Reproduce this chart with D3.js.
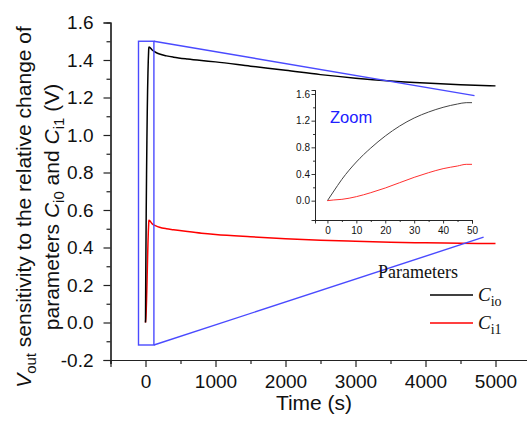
<!DOCTYPE html>
<html>
<head>
<meta charset="utf-8">
<script src="https://cdn.jsdelivr.net/npm/d3@7"></script>
<style>
  html, body { margin: 0; padding: 0; background: #fff; }
  svg { display: block; font-family: "Liberation Sans", Arial, sans-serif; }
</style>
</head>
<body>
<svg id="chart" width="527" height="429"></svg>
<script>
// Time points (s) and V_out sensitivity (V) for the two parameters
const time = [0, 2, 5, 10, 15, 20, 25, 30, 35, 40, 45, 48, 50,
              100, 150, 200, 300, 400, 600, 800, 1000, 1500, 2000, 2500, 3000, 3500, 4000, 4500, 5000];
const sensCi0 = [0, 0.13, 0.32, 0.58, 0.79, 0.97, 1.12, 1.24, 1.33, 1.40, 1.45, 1.47, 1.47,
                 1.452, 1.440, 1.432, 1.422, 1.415, 1.405, 1.397, 1.39, 1.367, 1.345, 1.322, 1.303, 1.288, 1.277, 1.268, 1.262];
const sensCi1 = [0, 0.01, 0.02, 0.06, 0.12, 0.19, 0.27, 0.35, 0.42, 0.48, 0.52, 0.545, 0.545,
                 0.525, 0.515, 0.508, 0.500, 0.495, 0.485, 0.476, 0.469, 0.457, 0.447, 0.439, 0.433, 0.428, 0.425, 0.423, 0.421];

// Axis ticks
const xTicks = [0, 1000, 2000, 3000, 4000, 5000];
const xMinorTicks = [-500, 500, 1500, 2500, 3500, 4500, 5500];
const yTicks = [-0.2, 0, 0.2, 0.4, 0.6, 0.8, 1.0, 1.2, 1.4, 1.6];
const yMinorTicks = [-0.1, 0.1, 0.3, 0.5, 0.7, 0.9, 1.1, 1.3, 1.5];
const insetXTicks = [0, 10, 20, 30, 40, 50];
const insetXMinorTicks = [5, 15, 25, 35, 45];
const insetYTicks = [0, 0.4, 0.8, 1.2, 1.6];
const insetYMinorTicks = [0.2, 0.6, 1.0, 1.4];

// Zoomed window (time range, voltage range) and where its connectors end
const zoomTime = [-100, 120];
const zoomV = [-0.12, 1.5];
const connectorEnds = [[4700, 1.21], [4830, 0.455]];
const insetMaxTime = 50;

const seriesNames = ["io", "i1"];
const seriesColors = ["#000000", "#ff0000"];

const svg = d3.select("#chart");
const fmt = d3.format(".1f");

// ---------- main plot ----------
const x = d3.scaleLinear().domain([-500, 5500]).range([110.5, 530.5]);
const y = d3.scaleLinear().domain([-0.2, 1.6]).range([360, 22.5]);

const axisColor = "#222";

function styleAxis(g, fontSize) {
  g.selectAll(".domain").attr("stroke", axisColor).attr("stroke-width", 1.2);
  g.selectAll(".tick line").attr("stroke", axisColor).attr("stroke-width", 1.2);
  g.selectAll(".tick text").attr("fill", "#111").style("font-size", fontSize + "px")
    .style("font-family", '"Liberation Sans", Arial, sans-serif');
}

// minor ticks first
svg.append("g").attr("transform", `translate(0,${y(-0.2)})`)
  .call(d3.axisBottom(x).tickValues(xMinorTicks).tickSize(4).tickFormat(""))
  .call(g => styleAxis(g, 19));
svg.append("g").attr("transform", `translate(${x(-500)},0)`)
  .call(d3.axisLeft(y).tickValues(yMinorTicks).tickSize(4).tickFormat(""))
  .call(g => styleAxis(g, 19));

svg.append("g").attr("transform", `translate(0,${y(-0.2)})`)
  .call(d3.axisBottom(x).tickValues(xTicks).tickSize(7).tickPadding(7.5).tickFormat(d3.format("d")))
  .call(g => styleAxis(g, 19));
svg.append("g").attr("transform", `translate(${x(-500)},0)`)
  .call(d3.axisLeft(y).tickValues(yTicks).tickSize(7).tickPadding(10).tickFormat(d => d < 0 ? "-" + fmt(-d) : fmt(d)))
  .call(g => styleAxis(g, 19));

// axis titles
svg.append("text")
  .attr("x", 314).attr("y", 410)
  .attr("text-anchor", "middle")
  .style("font-size", "21px").attr("fill", "#111")
  .text("Time (s)");

const yTitle = svg.append("g").attr("transform", "translate(0,207) rotate(-90)");
const t1 = yTitle.append("text").attr("x", 0).attr("y", 31)
  .attr("text-anchor", "middle").style("font-size", "21px").attr("fill", "#111");
t1.append("tspan").style("font-style", "italic").text("V");
t1.append("tspan").attr("dy", 5).style("font-size", "15px").text("out");
t1.append("tspan").attr("dy", -5).text(" sensitivity to the relative change of");
const t2 = yTitle.append("text").attr("x", 0).attr("y", 59)
  .attr("text-anchor", "middle").style("font-size", "21px").attr("fill", "#111");
t2.append("tspan").text("parameters ");
t2.append("tspan").style("font-style", "italic").text("C");
t2.append("tspan").attr("dy", 5).style("font-size", "15px").text("i0");
t2.append("tspan").attr("dy", -5).text(" and ");
t2.append("tspan").style("font-style", "italic").text("C");
t2.append("tspan").attr("dy", 5).style("font-size", "15px").text("i1");
t2.append("tspan").attr("dy", -5).text(" (V)");

// curves
const rows = time.map((t, i) => ({ t, v: [sensCi0[i], sensCi1[i]] }));
[1, 0].forEach(k => {
  svg.append("path")
    .datum(rows)
    .attr("fill", "none")
    .attr("stroke", seriesColors[k])
    .attr("stroke-width", 1.5)
    .attr("stroke-linejoin", "round")
    .attr("d", d3.line().x(d => x(d.t)).y(d => y(d.v[k])).curve(d3.curveMonotoneX));
});

// zoom window and connectors
const blue = "#4a4aff";
svg.append("rect")
  .attr("x", x(zoomTime[0])).attr("y", y(zoomV[1]))
  .attr("width", x(zoomTime[1]) - x(zoomTime[0]))
  .attr("height", y(zoomV[0]) - y(zoomV[1]))
  .attr("fill", "none").attr("stroke", blue).attr("stroke-width", 1.4);
svg.append("line")
  .attr("x1", x(zoomTime[1])).attr("y1", y(zoomV[1]))
  .attr("x2", x(connectorEnds[0][0])).attr("y2", y(connectorEnds[0][1]))
  .attr("stroke", blue).attr("stroke-width", 1.4);
svg.append("line")
  .attr("x1", x(zoomTime[1])).attr("y1", y(zoomV[0]))
  .attr("x2", x(connectorEnds[1][0])).attr("y2", y(connectorEnds[1][1]))
  .attr("stroke", blue).attr("stroke-width", 1.4);

// ---------- inset ----------
const ix = d3.scaleLinear().domain([-4.3, 50]).range([315, 472]);
const iy = d3.scaleLinear().domain([-0.29, 1.66]).range([220, 90]);

svg.append("g").attr("transform", `translate(0,${iy(-0.29)})`)
  .call(d3.axisBottom(ix).tickValues(insetXMinorTicks).tickSize(2).tickFormat(""))
  .call(g => styleAxis(g, 10))
  .call(g => g.selectAll(".domain, .tick line").attr("stroke-width", 0.9));
svg.append("g").attr("transform", `translate(${ix(-4.3)},0)`)
  .call(d3.axisLeft(iy).tickValues(insetYMinorTicks).tickSize(2).tickFormat(""))
  .call(g => styleAxis(g, 10))
  .call(g => g.selectAll(".domain, .tick line").attr("stroke-width", 0.9));
svg.append("g").attr("transform", `translate(0,${iy(-0.29)})`)
  .call(d3.axisBottom(ix).tickValues(insetXTicks).tickSize(3.5).tickPadding(3.5).tickFormat(d3.format("d")))
  .call(g => styleAxis(g, 10))
  .call(g => g.selectAll(".domain, .tick line").attr("stroke-width", 0.9));
svg.append("g").attr("transform", `translate(${ix(-4.3)},0)`)
  .call(d3.axisLeft(iy).tickValues(insetYTicks).tickSize(3.5).tickPadding(1.5).tickFormat(fmt))
  .call(g => styleAxis(g, 10))
  .call(g => g.selectAll(".domain, .tick line").attr("stroke-width", 0.9));

const insetRows = rows.filter(d => d.t <= insetMaxTime);
[0, 1].forEach(k => {
  svg.append("path")
    .datum(insetRows)
    .attr("fill", "none")
    .attr("stroke", k === 0 ? "#444" : "#ff3030")
    .attr("stroke-width", 1)
    .attr("d", d3.line().x(d => ix(d.t)).y(d => iy(d.v[k])).curve(d3.curveMonotoneX));
});

svg.append("text")
  .attr("x", 330).attr("y", 123)
  .style("font-size", "16.5px").attr("fill", "#2020ff")
  .text("Zoom");

// ---------- legend ----------
const legend = svg.append("g").style("font-family", '"Liberation Serif", "Times New Roman", serif');
legend.append("text").attr("x", 378).attr("y", 278)
  .style("font-size", "18px").attr("fill", "#111").text("Parameters");
seriesNames.forEach((name, i) => {
  const yy = 295 + i * 28;
  legend.append("line").attr("x1", 430).attr("x2", 473).attr("y1", yy).attr("y2", yy)
    .attr("stroke", seriesColors[i]).attr("stroke-width", 1.5);
  const tx = legend.append("text").attr("x", 478).attr("y", yy + 6)
    .style("font-size", "19px").attr("fill", "#111");
  tx.append("tspan").style("font-style", "italic").text("C");
  tx.append("tspan").attr("dy", 5).style("font-size", "14px").text(name);
});
</script>
</body>
</html>
